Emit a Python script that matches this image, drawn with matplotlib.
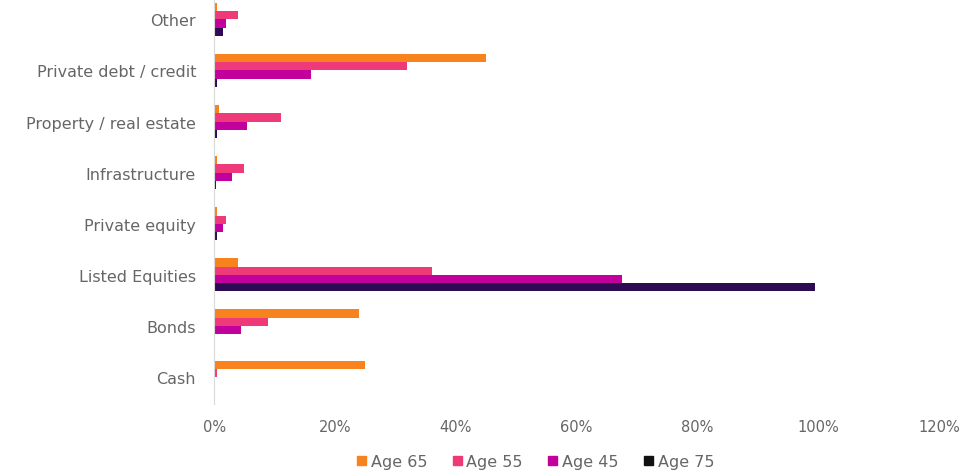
import matplotlib.pyplot as plt
import numpy as np
from matplotlib.patches import Patch

plt.rcParams['font.family'] = ['DejaVu Sans']

# asset classes, bottom to top
categories = ["Cash", "Bonds", "Listed Equities", "Private equity",
              "Infrastructure", "Property / real estate",
              "Private debt / credit", "Other"]

# allocation in % per age profile, same order as categories
age65 = [25.0, 24.0, 4.0, 0.5, 0.5, 0.8, 45.0, 0.5]
age55 = [0.5, 9.0, 36.0, 2.0, 5.0, 11.0, 32.0, 4.0]
age45 = [0.0, 4.5, 67.5, 1.5, 3.0, 5.5, 16.0, 2.0]
age75 = [0.0, 0.0, 99.5, 0.5, 0.3, 0.5, 0.5, 1.5]

series = [("Age 65", age65, "#F7821E"),
          ("Age 55", age55, "#EE3A78"),
          ("Age 45", age45, "#C2009C"),
          ("Age 75", age75, "#2E0A55")]

xticks = [0, 20, 40, 60, 80, 100, 120]

fig = plt.figure(figsize=(9.6, 4.77), dpi=100)
ax = fig.add_axes([0.223, 0.151, 0.755, 0.849])

y = np.arange(len(categories))
h = 0.16
offsets = [1.5 * h, 0.5 * h, -0.5 * h, -1.5 * h]
for (name, vals, col), off in zip(series, offsets):
    ax.barh(y + off, vals, height=h, color=col, label=name)

ax.set_xlim(0, 120)
ax.set_ylim(-0.53, 7.40)
ax.set_yticks(y)
ax.set_yticklabels(categories)
ax.set_xticks(xticks)
ax.set_xticklabels([f"{v}%" for v in xticks])

for s in ["top", "right", "bottom"]:
    ax.spines[s].set_visible(False)
ax.spines["left"].set_color("#D9D9D9")
ax.tick_params(axis="both", length=0, colors="#666666")
ax.tick_params(axis="x", pad=11, labelsize=10.5)
ax.tick_params(axis="y", pad=13, labelsize=11.5)

handles = [Patch(color=c, label=n) for n, _, c in series]
handles[3] = Patch(color="#111111", label="Age 75")
fig.legend(handles=handles, loc="center", bbox_to_anchor=(0.558, 0.03),
           ncol=4, frameon=False, fontsize=11.5, handlelength=0.55,
           handleheight=0.55, handletextpad=0.3, columnspacing=1.6,
           labelcolor="#666666")

fig.savefig("out.png", dpi=100)
